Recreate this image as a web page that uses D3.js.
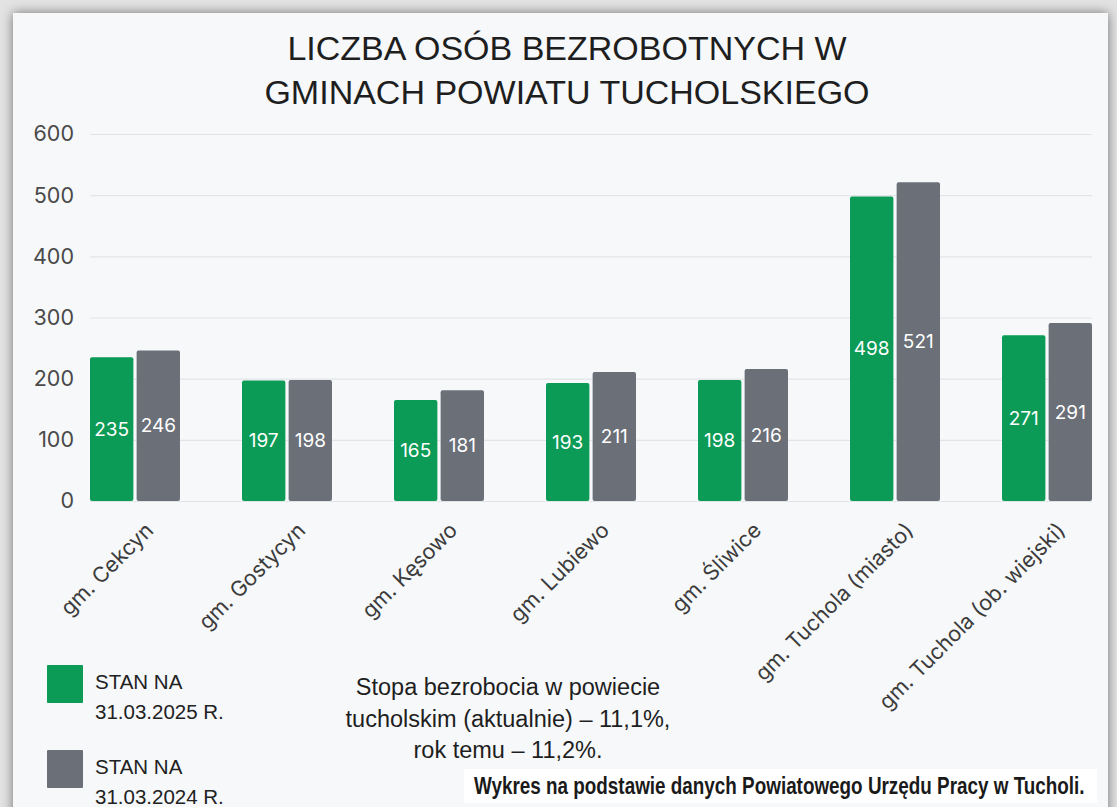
<!DOCTYPE html>
<html>
<head>
<meta charset="utf-8">
<script src="https://cdn.jsdelivr.net/npm/d3@7"></script>
<style>
  body { margin: 0; background: #e4e4e4; }
  svg { display: block; }
</style>
</head>
<body>
<svg id="chart" width="1117" height="807"></svg>
<script>
// dane
const gminy = ["gm. Cekcyn", "gm. Gostycyn", "gm. Kęsowo", "gm. Lubiewo", "gm. Śliwice", "gm. Tuchola (miasto)", "gm. Tuchola (ob. wiejski)"];
const stan2025 = [235, 197, 165, 193, 198, 498, 271];
const stan2024 = [246, 198, 181, 211, 216, 521, 291];
const serie = ["2025", "2024"];
const legendaOpisy = [["STAN NA", "31.03.2025 R."], ["STAN NA", "31.03.2024 R."]];
const yTicks = [0, 100, 200, 300, 400, 500, 600];
const tytul = ["LICZBA OSÓB BEZROBOTNYCH W", "GMINACH POWIATU TUCHOLSKIEGO"];
const notka = ["Stopa bezrobocia w powiecie", "tucholskim (aktualnie) – 11,1%,", "rok temu – 11,2%."];
const zrodlo = "Wykres na podstawie danych Powiatowego Urzędu Pracy w Tucholi.";

const kolory = { "2025": "#0b9b56", "2024": "#6b6f77" };
const font = "Inter, 'Noto Sans', sans-serif";
const helv = "'Liberation Sans', Arial, sans-serif";

const svg = d3.select("#chart");

// cien karty
const defs = svg.append("defs");
const f = defs.append("filter").attr("id", "cien").attr("x", "-5%").attr("y", "-5%").attr("width", "110%").attr("height", "110%");
f.append("feDropShadow").attr("dx", 0).attr("dy", 0).attr("stdDeviation", 6).attr("flood-color", "#000").attr("flood-opacity", 0.5);

svg.append("rect").attr("width", 1117).attr("height", 807).attr("fill", "#e3e3e3");
svg.append("rect")
  .attr("x", 13).attr("y", 13).attr("width", 1095).attr("height", 810)
  .attr("fill", "#f6f8fa")
  .attr("filter", "url(#cien)");

// tytul
svg.append("g").selectAll("text")
  .data(tytul).enter().append("text")
  .attr("x", 567).attr("y", (d, i) => 60 + i * 44)
  .attr("text-anchor", "middle")
  .attr("font-family", helv)
  .attr("font-size", 34)
  .attr("fill", "#1e1e1e")
  .text(d => d);

// skale
const margin = { left: 90, right: 1092, top: 134, bottom: 501 };
const y = d3.scaleLinear().domain([0, 600]).range([margin.bottom, margin.top]);
const x = d3.scaleBand().domain(gminy).range([margin.left, margin.right]).paddingInner(0.408).paddingOuter(0);
const xs = d3.scaleBand().domain(serie).range([0, x.bandwidth()]).paddingInner(0.07);

// siatka + os Y
const yAxis = svg.append("g")
  .attr("transform", `translate(${margin.left},0)`)
  .call(d3.axisLeft(y).tickValues(yTicks).tickSize(-(margin.right - margin.left)).tickPadding(16));
yAxis.select(".domain").remove();
yAxis.selectAll(".tick line").attr("stroke", "#e2e5e8").attr("stroke-width", 1.2);
yAxis.selectAll(".tick text")
  .attr("font-family", font).attr("font-size", 21.5).attr("fill", "#4a4a4a");

// slupki
const dane = gminy.map((g, i) => ({ gmina: g, wartosci: [{ s: "2025", v: stan2025[i] }, { s: "2024", v: stan2024[i] }] }));

const grupy = svg.append("g").selectAll("g")
  .data(dane).enter().append("g")
  .attr("transform", d => `translate(${x(d.gmina)},0)`);

grupy.selectAll("rect")
  .data(d => d.wartosci).enter().append("rect")
  .attr("x", d => xs(d.s))
  .attr("y", d => y(d.v))
  .attr("width", xs.bandwidth())
  .attr("height", d => y(0) - y(d.v))
  .attr("rx", 2)
  .attr("fill", d => kolory[d.s]);

grupy.selectAll("text")
  .data(d => d.wartosci).enter().append("text")
  .attr("x", d => xs(d.s) + xs.bandwidth() / 2)
  .attr("y", d => (y(d.v) + y(0)) / 2)
  .attr("dy", "0.35em")
  .attr("text-anchor", "middle")
  .attr("font-family", font)
  .attr("font-size", 19)
  .attr("fill", "#fff")
  .text(d => d.v);

// os X
const xAxis = svg.append("g")
  .attr("transform", `translate(0,${margin.bottom})`)
  .call(d3.axisBottom(x).tickSize(0).tickPadding(0));
xAxis.select(".domain").remove();
xAxis.selectAll(".tick text")
  .attr("font-family", font).attr("font-size", 21.5).attr("fill", "#3c3c3c")
  .attr("text-anchor", "end")
  .attr("transform", "translate(9,20) rotate(-45)")
  .attr("dy", "0.7em");

// legenda
const leg = svg.append("g").selectAll("g")
  .data(serie).enter().append("g")
  .attr("transform", (d, i) => `translate(47,${665 + i * 85})`);
leg.append("rect").attr("width", 36).attr("height", 38).attr("rx", 1).attr("fill", d => kolory[d]);
leg.each(function (d, i) {
  d3.select(this).selectAll("text")
    .data(legendaOpisy[i]).enter().append("text")
    .attr("x", 48).attr("y", (t, j) => 24 + j * 30)
    .attr("font-family", helv).attr("font-size", 20.5).attr("fill", "#222")
    .text(t => t);
});

// notka
svg.append("g").selectAll("text")
  .data(notka).enter().append("text")
  .attr("x", 508).attr("y", (d, i) => 695 + i * 31.5)
  .attr("text-anchor", "middle")
  .attr("font-family", helv).attr("font-size", 23.5).attr("fill", "#1e1e1e")
  .text(d => d);

// zrodlo - waski pogrubiony krój, sciskany w poziomie
svg.append("rect").attr("x", 464).attr("y", 769).attr("width", 633).attr("height", 34).attr("fill", "#fff");
const zr = svg.append("text")
  .attr("font-family", helv)
  .attr("font-weight", "bold")
  .attr("font-size", 24)
  .attr("fill", "#1a1a1a")
  .text(zrodlo);
const sx = 611 / zr.node().getComputedTextLength();
zr.attr("transform", `translate(474,794) scale(${sx},1)`);
</script>
</body>
</html>
